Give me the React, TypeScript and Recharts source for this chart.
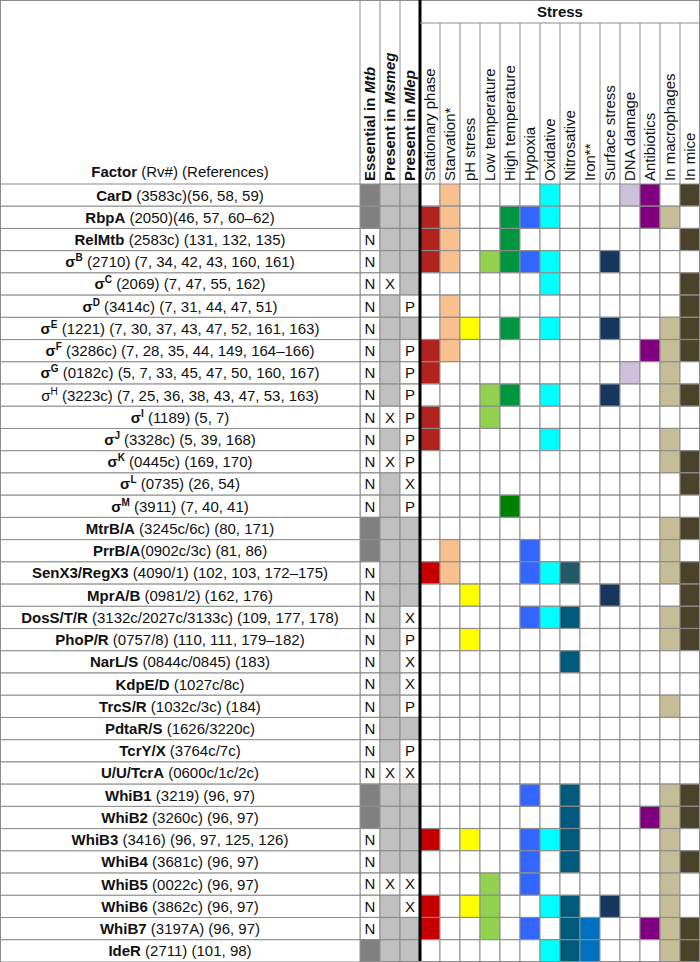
import React from 'react';
import { BarChart, Bar, XAxis, YAxis, Cell, LabelList, ReferenceLine } from 'recharts';

// rows of the table (top to bottom)
const factorNames = [
  'CarD', 'RbpA', 'RelMtb', 'σ', 'σ', 'σ', 'σ', 'σ', 'σ', 'σ', 'σ', 'σ', 'σ', 'σ', 'σ',
  'MtrB/A', 'PrrB/A', 'SenX3/RegX3', 'MprA/B', 'DosS/T/R', 'PhoP/R', 'NarL/S', 'KdpE/D',
  'TrcS/R', 'PdtaR/S', 'TcrY/X', 'U/U/TcrA', 'WhiB1', 'WhiB2', 'WhiB3', 'WhiB4', 'WhiB5',
  'WhiB6', 'WhiB7', 'IdeR',
];
const factorSup = [
  '', '', '', 'B', 'C', 'D', 'E', 'F', 'G', 'H', 'I', 'J', 'K', 'L', 'M',
  '', '', '', '', '', '', '', '', '', '', '', '', '', '', '', '', '', '', '', '',
];
const factorRefs = [
  ' (3583c)(56, 58, 59)', ' (2050)(46, 57, 60–62)', ' (2583c) (131, 132, 135)',
  ' (2710) (7, 34, 42, 43, 160, 161)', ' (2069) (7, 47, 55, 162)', ' (3414c) (7, 31, 44, 47, 51)',
  ' (1221) (7, 30, 37, 43, 47, 52, 161, 163)', ' (3286c) (7, 28, 35, 44, 149, 164–166)',
  ' (0182c) (5, 7, 33, 45, 47, 50, 160, 167)', ' (3223c) (7, 25, 36, 38, 43, 47, 53, 163)',
  ' (1189) (5, 7)', ' (3328c) (5, 39, 168)', ' (0445c) (169, 170)', ' (0735) (26, 54)',
  ' (3911) (7, 40, 41)', ' (3245c/6c) (80, 171)', '(0902c/3c) (81, 86)',
  ' (4090/1) (102, 103, 172–175)', ' (0981/2) (162, 176)', ' (3132c/2027c/3133c) (109, 177, 178)',
  ' (0757/8) (110, 111, 179–182)', ' (0844c/0845) (183)', ' (1027c/8c)', ' (1032c/3c) (184)',
  ' (1626/3220c)', ' (3764c/7c)', ' (0600c/1c/2c)', ' (3219) (96, 97)', ' (3260c) (96, 97)',
  ' (3416) (96, 97, 125, 126)', ' (3681c) (96, 97)', ' (0022c) (96, 97)', ' (3862c) (96, 97)',
  ' (3197A) (96, 97)', ' (2711) (101, 98)',
];
const plainRows = ['σH'];

// '' = essential in Mtb (dark cell), 'N' = not essential
const essMark = [
  '', '', 'N', 'N', 'N', 'N', 'N', 'N', 'N', 'N', 'N', 'N', 'N', 'N', 'N',
  '', '', 'N', 'N', 'N', 'N', 'N', 'N', 'N', 'N', 'N', 'N', '', '', 'N', 'N', 'N', 'N', 'N', '',
];
// '' = present (grey cell), 'X' = absent
const msmegMark = [
  '', '', '', '', 'X', '', '', '', '', '', 'X', '', 'X', '', '',
  '', '', '', '', '', '', '', '', '', '', '', 'X', '', '', '', '', 'X', '', '', '',
];
// '' = present (grey cell), 'P' = pseudogene, 'X' = absent
const mlepMark = [
  '', '', '', '', '', 'P', '', 'P', 'P', 'P', 'P', 'P', 'P', 'X', 'P',
  '', '', '', '', 'X', 'P', 'X', 'X', 'P', '', 'P', 'X', '', '', '', '', 'X', 'X', '', '',
];

const presenceLabels = [['Essential in ', 'Mtb'], ['Present in ', 'Msmeg'], ['Present in ', 'Mlep']];
const stressLabels = [
  'Stationary phase', 'Starvation*', 'pH stress', 'Low temperature', 'High temperature', 'Hypoxia',
  'Oxidative', 'Nitrosative', 'Iron**', 'Surface stress', 'DNA damage', 'Antibiotics',
  'In macrophages', 'In mice',
];
// one character per stress column, '.' = no response
const stressCodes = [
  '.s....o...da.k', 'rs..gho....am.', 'rs..g........k', 'rs.lgho..f....', '......o......k',
  '.s...........k', '.sy.g.o..f..mk', 'rs.........amk', 'r.........d.m.', '...lg.o..f..mk',
  'r..l..........', 'r.....o.....m.', '............mk', '.............k', '....G.........',
  '............mk', '.s...h......m.', 'Rs...hot....mk', '..y......f...k', '.....hon....mk',
  '..y.........mk', '.......n......', '..............', '............m.', '..............',
  '..............', '..............', '.....h.n....mk', '.......n...amk', 'R.y..hon....m.',
  '.....h.n....mk', '...l.h......m.', 'R.yl..on.f..m.', 'R..l.h.ni..amk', '......oni...mk',
];

const colors: Record<string, string> = {
  r: '#b1231e', R: '#c40000', s: '#f8c08f', y: '#ffff00', l: '#92d050', g: '#00963f',
  G: '#008000', h: '#3366ff', o: '#00ffff', n: '#005a7c', t: '#225a69', i: '#0070c0',
  f: '#17375e', d: '#ccc0da', a: '#800080', m: '#c4bd97', k: '#4a432a',
};

const W = 700;
const H = 962;
const HEAD = 184;
const LEFT = 360;
const COLS = 17;
const COL = (W - LEFT) / COLS;
const ROW = (H - HEAD) / factorNames.length;
const FONT = '"Liberation Sans", Arial, sans-serif';
const GRID = '#8c8c8c';

const colKeys = Array.from({ length: COLS }, (_, c) => 'c' + c);
const rows = factorNames.map((n, i) => {
  const row: any = { id: n + factorSup[i], ess: essMark[i], msm: msmegMark[i], mlp: mlepMark[i] };
  colKeys.forEach((k) => (row[k] = 1));
  return row;
});

function cellFill(r: number, c: number) {
  if (c === 0) return essMark[r] ? '#ffffff' : '#808080';
  if (c === 1) return msmegMark[r] ? '#ffffff' : '#c0c0c0';
  if (c === 2) return mlepMark[r] ? '#ffffff' : '#c0c0c0';
  const code = stressCodes[r][c - 3];
  return code === '.' ? '#ffffff' : colors[code];
}

const Letter = (props: any) => {
  const { x, y, width, height, value } = props;
  if (!value) return null;
  return (
    <text x={x + width / 2} y={y + height / 2} dy="0.36em" textAnchor="middle"
      fontSize={15} fontFamily={FONT} fill="#111">{value}</text>
  );
};

const FactorTick = (props: any) => {
  const { y, payload } = props;
  const i = rows.findIndex((r) => r.id === payload.value);
  const sup = factorSup[i];
  const bold = plainRows.includes(rows[i].id) ? 'normal' : 'bold';
  return (
    <g>
      <rect x={0.5} y={y - ROW / 2} width={LEFT - 0.5} height={ROW} fill="#fff" stroke={GRID} />
      <text x={LEFT / 2} y={y} dy="0.36em" textAnchor="middle" fontSize={15} fontFamily={FONT}
        fill="#111" style={{ whiteSpace: 'pre' }}>
        <tspan fontWeight={bold}>{factorNames[i]}</tspan>
        {sup ? <tspan fontWeight={bold} fontSize={10} dy={-6}>{sup}</tspan> : null}
        <tspan dy={sup ? 6 : 0}>{factorRefs[i]}</tspan>
      </text>
    </g>
  );
};

const HeaderTick = (props: any) => {
  const { x, payload } = props;
  const c = Math.floor(payload.value);
  const left = x - COL / 2;
  const top = c < 3 ? 0 : 23;
  const base = HEAD - 3;
  return (
    <g>
      {c === 0 ? (
        <g>
          <rect x={0.5} y={0.5} width={W - 1} height={H - 1} fill="none" stroke={GRID} />
          <text x={LEFT / 2} y={HEAD - 7} textAnchor="middle" fontSize={15} fontFamily={FONT} fill="#111">
            <tspan fontWeight="bold">Factor</tspan>
            <tspan> (Rv#) (References)</tspan>
          </text>
        </g>
      ) : null}
      {c === 3 ? (
        <g>
          <line x1={left} x2={left} y1={0} y2={HEAD} stroke="#000" strokeWidth={3} />
          <text x={left + (W - left) / 2} y={12} dy="0.36em" textAnchor="middle" fontSize={15}
            fontWeight="bold" fontFamily={FONT} fill="#111">Stress</text>
        </g>
      ) : (
        <line x1={left} x2={left} y1={top} y2={HEAD} stroke={GRID} />
      )}
      {c >= 3 ? <line x1={left} x2={left + COL} y1={23} y2={23} stroke={GRID} /> : null}
      <text transform={`rotate(-90 ${x} ${base})`} x={x} y={base} dy="0.36em" textAnchor="start"
        fontSize={15} fontFamily={FONT} fill="#111" fontWeight={c < 3 ? 'bold' : 'normal'}>
        {c < 3 ? (
          <>
            <tspan>{presenceLabels[c][0]}</tspan>
            <tspan fontStyle="italic">{presenceLabels[c][1]}</tspan>
          </>
        ) : (
          stressLabels[c - 3]
        )}
      </text>
    </g>
  );
};

export default function App() {
  return (
    <div style={{ width: W, height: H, background: '#fff' }}>
      <style>{'body{margin:0}'}</style>
      <BarChart width={W} height={H} data={rows} layout="vertical"
        margin={{ top: 0, right: 0, bottom: 0, left: 0 }} barCategoryGap={0} barGap={0}>
        <XAxis type="number" orientation="top" domain={[0, COLS]} height={HEAD}
          ticks={colKeys.map((_, c) => c + 0.5)} interval={0} tick={<HeaderTick />}
          axisLine={false} tickLine={false} />
        <YAxis type="category" dataKey="id" width={LEFT} interval={0} tick={<FactorTick />}
          axisLine={false} tickLine={false} />
        {colKeys.map((k, c) => (
          <Bar key={k} dataKey={k} stackId="row" stroke={GRID} strokeWidth={1} isAnimationActive={false}>
            {rows.map((_, r) => (
              <Cell key={r} fill={cellFill(r, c)} />
            ))}
            {c === 0 ? <LabelList dataKey="ess" content={<Letter />} /> : null}
            {c === 1 ? <LabelList dataKey="msm" content={<Letter />} /> : null}
            {c === 2 ? <LabelList dataKey="mlp" content={<Letter />} /> : null}
          </Bar>
        ))}
        <ReferenceLine x={3} stroke="#000" strokeWidth={3} />
      </BarChart>
    </div>
  );
}
